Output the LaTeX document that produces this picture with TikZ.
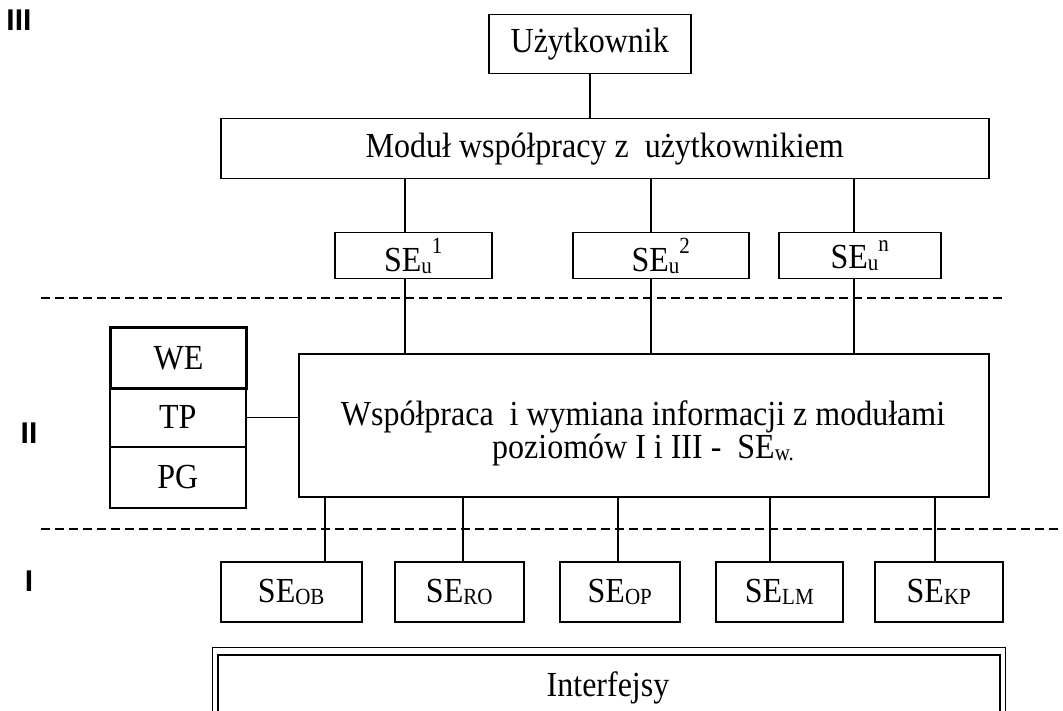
\documentclass[tikz,border=0pt]{standalone}
\usepackage{graphicx}
\usepackage{fontspec}
\setmainfont{Liberation Serif}
\newfontfamily\labfont{Liberation Sans}
\newcommand{\vs}[1]{\scalebox{1}[1.1]{#1}}
\newcommand{\lowsub}[1]{\raisebox{-0.06em}{\fontsize{21}{21}\selectfont #1}}
\newcommand{\highsup}[1]{\raisebox{0.5em}{\fontsize{21}{21}\selectfont #1}}
\begin{document}
\begin{tikzpicture}[x=1pt,y=-1pt,
  box/.style={draw, line width=1.5pt, inner sep=0pt, anchor=north west,
    font=\fontsize{32}{35}\selectfont, align=center},
  thickbox/.style={box, line width=3pt},
  conn/.style={line width=1.5pt},
  dline/.style={line width=1.5pt, dash pattern=on 9pt off 5pt},
  txt/.style={font=\fontsize{32}{35}\selectfont, inner sep=0pt, align=center},
  lvl/.style={font=\labfont\bfseries\fontsize{30}{30}\selectfont, inner sep=0pt}]
\useasboundingbox (0,0) rectangle (1063,711);

% level labels
\node[lvl] (l3) at (19,20) {III};
\node[lvl] (l2) at (29,433) {II};
\node[lvl] (l1) at (29,581) {I};

% dashed separators
\coordinate (d1a) at (41,298);
\coordinate (d1b) at (1002,298);
\coordinate (d2a) at (41,529);
\coordinate (d2b) at (1063,529);
\draw[dline] (d1a) -- (d1b);
\draw[dline] (d2a) -- (d2b);

% level III
\node[box, minimum width=202pt, minimum height=59pt] (uzyt) at (488,14) {\vs{Użytkownik}};
\node[box, minimum width=768pt, minimum height=60pt] (modul) at (220,118) {\vs{Moduł współpracy z \ użytkownikiem}};
\node[box, minimum width=157pt, minimum height=46pt] (su1) at (334,232) {\vs{SE\lowsub{u}\highsup{1}}};
\node[box, minimum width=176pt, minimum height=46pt] (su2) at (572,232) {\vs{SE\lowsub{u}\highsup{2}}};
\node[box, minimum width=162pt, minimum height=46pt] (sun) at (778,232) {\vs{SE\lowsub{u}\highsup{n}}};

% level II
\node[box, minimum width=690pt, minimum height=143pt] (wsp) at (298,353) {};
\node[txt] (wsplab) at (643,434)
  {\vs{\begin{tabular}{@{}c@{}}Współpraca \ i wymiana informacji z modułami\\[-5pt]poziomów I i III - \ SE\lowsub{w.}\end{tabular}}};
\node[box, minimum width=136pt, minimum height=59pt] (tp) at (109,387) {\vs{TP}};
\node[box, minimum width=136pt, minimum height=61pt] (pg) at (109,446) {\vs{PG}};
\node[thickbox, minimum width=136pt, minimum height=61pt] (we) at (109,326) {\vs{WE}};

% level I
\node[box, minimum width=141pt, minimum height=60pt] (sob) at (220,561) {\vs{SE\lowsub{OB}}};
\node[box, minimum width=129pt, minimum height=60pt] (sro) at (394,561) {\vs{SE\lowsub{RO}}};
\node[box, minimum width=120pt, minimum height=60pt] (sop) at (559,561) {\vs{SE\lowsub{OP}}};
\node[box, minimum width=127pt, minimum height=60pt] (slm) at (715,561) {\vs{SE\lowsub{LM}}};
\node[box, minimum width=128pt, minimum height=60pt] (skp) at (874,561) {\vs{SE\lowsub{KP}}};

% interfaces (double frame, cut by the page bottom)
\begin{scope}
\clip (0,0) rectangle (1063,711);
\node[draw, line width=1.2pt, inner sep=0pt, anchor=north west,
  minimum width=793pt, minimum height=90pt] (intout) at (212,647) {};
\node[draw, line width=2.4pt, inner sep=0pt, anchor=north west,
  minimum width=782pt, minimum height=80pt] (intin) at (217,654) {};
\end{scope}
\node[txt] (intlab) at (608,688) {\vs{Interfejsy}};

% connectors
\draw[conn] (uzyt.south) -- (modul.north -| uzyt.south);
\draw[conn] (modul.south -| 405,0) -- (su1.north -| 405,0);
\draw[conn] (modul.south -| 651,0) -- (su2.north -| 651,0);
\draw[conn] (modul.south -| 854,0) -- (sun.north -| 854,0);
\draw[conn] (su1.south -| 405,0) -- (wsp.north -| 405,0);
\draw[conn] (su2.south -| 651,0) -- (wsp.north -| 651,0);
\draw[conn] (sun.south -| 854,0) -- (wsp.north -| 854,0);
\draw[conn] (tp.east) -- (wsp.west |- tp.east);
\draw[conn] (wsp.south -| 325,0) -- (sob.north -| 325,0);
\draw[conn] (wsp.south -| 463,0) -- (sro.north -| 463,0);
\draw[conn] (wsp.south -| 618,0) -- (sop.north -| 618,0);
\draw[conn] (wsp.south -| 770,0) -- (slm.north -| 770,0);
\draw[conn] (wsp.south -| 935,0) -- (skp.north -| 935,0);
\end{tikzpicture}
\end{document}
